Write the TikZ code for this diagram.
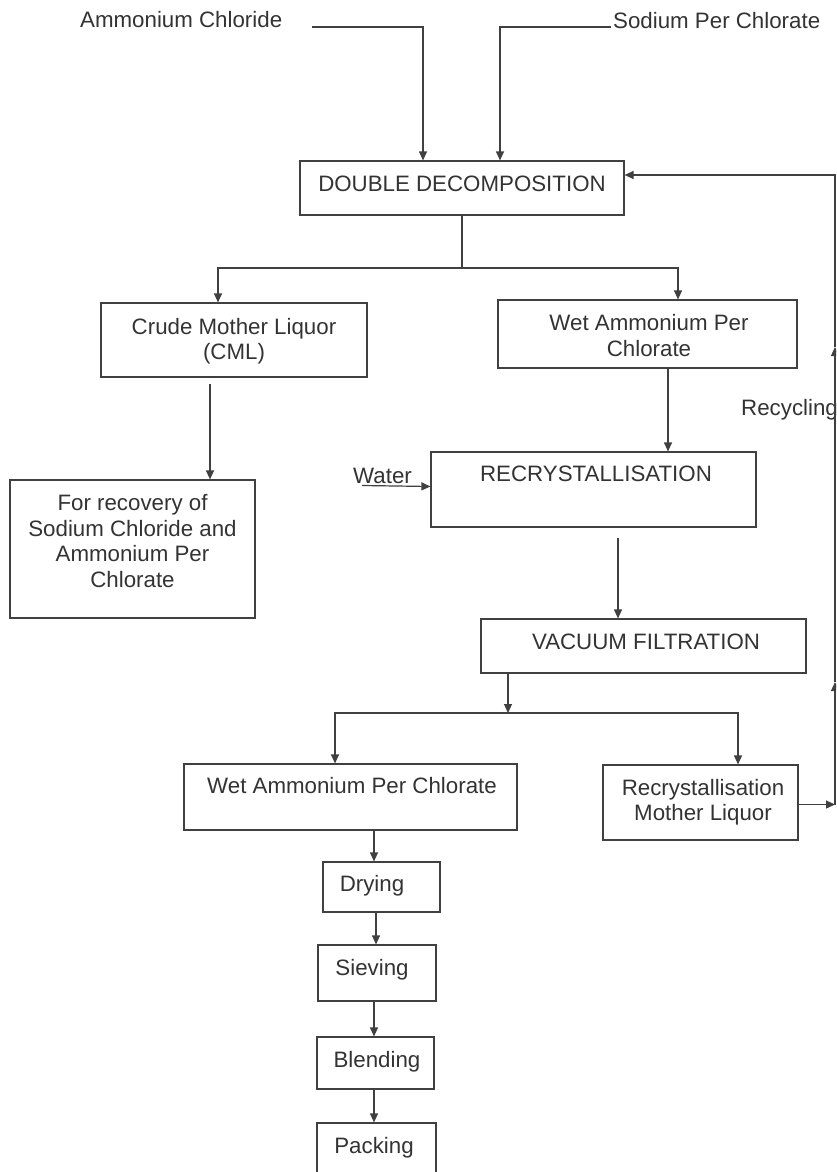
\documentclass[tikz,border=0pt]{standalone}
\usepackage{fontspec}
\setmainfont{Liberation Sans}
\usetikzlibrary{arrows.meta}

\definecolor{ink}{HTML}{333333}
\definecolor{linegray}{HTML}{404040}

% text block: raise by #1, shift sideways by half of #2, lines in #3
\newcommand\boxlines[3]{\hspace*{#2}\raisebox{#1}[\height][\depth]{\begin{tabular}{@{}c@{}}#3\end{tabular}}}
\newcommand\txtfont{\fontsize{22.3}{25.6}\selectfont}

\tikzset{
  box/.style={draw=linegray, line width=1.2pt, inner sep=0pt, text=ink, font=\txtfont},
  tag/.style={inner sep=0pt, text=ink, font=\txtfont},
  plain/.style={draw=linegray, line width=1.2pt},
  flow/.style={plain, -{Triangle[length=9pt,width=8pt]}},
}

\begin{document}
\begin{tikzpicture}[x=1pt, y=-1pt]
\useasboundingbox (0,0) rectangle (836,1172);
\fill[white] (0,0) rectangle (836,1172);
\clip (0,0) rectangle (836,1172);

% feed labels
\node[tag, anchor=base west] (ac) at (80,28) {Ammonium Chloride};
\node[tag, anchor=base west] (spc) at (613,29) {Sodium Per Chlorate};
\node[tag, anchor=base west] (water) at (353,483) {Water};
\node[tag, anchor=base west] (recyc) at (741,415) {Recycling};

% process boxes
\node[box, minimum width=324pt, minimum height=54pt] (dd) at (462,188)
  {\boxlines{2pt}{0pt}{DOUBLE DECOMPOSITION}};
\node[box, minimum width=266pt, minimum height=74pt] (cml) at (234,340)
  {\boxlines{-2pt}{0pt}{Crude Mother Liquor\\(CML)}};
\node[box, minimum width=299pt, minimum height=68pt] (wapc) at (647.5,334)
  {\boxlines{-4.5pt}{3pt}{Wet Ammonium Per\\Chlorate}};
\node[box, minimum width=245pt, minimum height=138pt] (rec) at (132.5,549)
  {\boxlines{5pt}{0pt}{For recovery of\\Sodium Chloride and\\Ammonium Per\\Chlorate}};
\node[box, minimum width=325pt, minimum height=75pt] (recr) at (593.5,489.5)
  {\boxlines{13.3pt}{5pt}{RECRYSTALLISATION}};
\node[box, minimum width=325pt, minimum height=54pt] (vf) at (643.5,646)
  {\boxlines{2pt}{5pt}{VACUUM FILTRATION}};
\node[box, minimum width=333pt, minimum height=66pt] (wapc2) at (350.5,797)
  {\boxlines{9pt}{3pt}{Wet Ammonium Per Chlorate}};
\node[box, minimum width=195pt, minimum height=75pt] (rml) at (700.5,802.5)
  {\boxlines{-0.5pt}{5pt}{Recrystallisation\\Mother Liquor}};
\node[box, minimum width=117pt, minimum height=50pt] (dry) at (381.5,887)
  {\boxlines{0.8pt}{-19pt}{Drying}};
\node[box, minimum width=118pt, minimum height=56pt] (siev) at (377,973)
  {\boxlines{3pt}{-10pt}{Sieving}};
\node[box, minimum width=117pt, minimum height=52pt] (blend) at (375.5,1063)
  {\boxlines{1pt}{3pt}{Blending}};
\node[box, minimum width=119pt, minimum height=55pt] (pack) at (376.5,1150.5)
  {\boxlines{2.6pt}{-5pt}{Packing}};

% feeds into double decomposition
\coordinate (acin) at (312,27);
\coordinate (spcin) at (611,27);
\draw[flow] (acin) -| ([xshift=-39pt]dd.north);
\draw[flow] (spcin) -| ([xshift=38pt]dd.north);

% split after double decomposition
\coordinate (j1) at (462,268);
\draw[plain] (dd.south) -- (j1);
\draw[flow] (j1) -| ([xshift=-16pt]cml.north);
\draw[flow] (j1) -| ([xshift=30.5pt]wapc.north);

\draw[flow] ([xshift=-24pt,yshift=-6pt]cml.south) -- ([xshift=77.5pt]rec.north);
\draw[flow] ([xshift=24.5pt,yshift=-10pt]recr.south) -- ([xshift=-25.5pt]vf.north);
\draw[flow] ([xshift=20.5pt]wapc.south) -- ([xshift=74.5pt]recr.north);
% water enters along an underline below its label
\draw[flow] ([xshift=9pt,yshift=-2.5pt]water.base west) -- ([yshift=3pt]recr.west);

% split after vacuum filtration
\coordinate (j2) at (508,713);
\draw[flow] ([xshift=-135.5pt]vf.south) -- (j2);
\draw[flow] (j2) -| ([xshift=-15.5pt]wapc2.north);
\draw[flow] (j2) -| ([xshift=37.5pt]rml.north);

% finishing line
\draw[flow] ([xshift=23.5pt]wapc2.south) -- ([xshift=-7.5pt]dry.north);
\draw[flow] ([xshift=-5.5pt]dry.south) -- ([xshift=-1pt]siev.north);
\draw[flow] ([xshift=-3pt]siev.south) -- ([xshift=-1.5pt]blend.north);
\draw[flow] ([xshift=-1.5pt]blend.south) -- ([xshift=-2.5pt]pack.north);

% recycling loop along the right edge
\coordinate (rbot) at (835,804.5);
\coordinate (rmid) at (835,682);
\coordinate (rup) at (835,347);
\coordinate (rtop) at (835,175);
\draw[flow] ([yshift=-2pt]rml.east) -- (rbot);
\draw[flow] (rbot) -- (rmid);
\draw[flow] (rmid) -- (rup);
\draw[flow] (rup) -- (rtop) -- ([yshift=13pt]dd.east);
\end{tikzpicture}
\end{document}
